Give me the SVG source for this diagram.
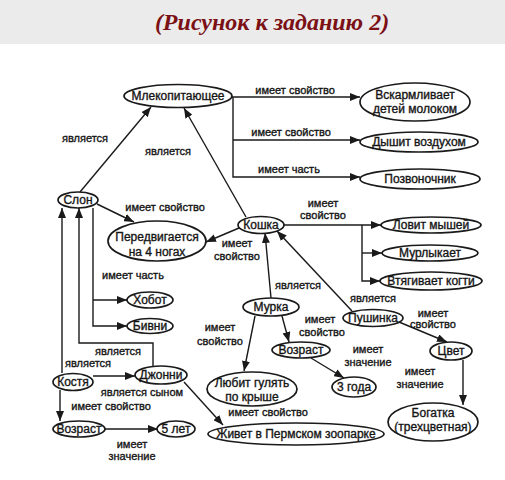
<svg xmlns="http://www.w3.org/2000/svg" width="505" height="480" viewBox="0 0 505 480">
<defs>
<marker id="arr" markerUnits="userSpaceOnUse" markerWidth="10" markerHeight="8" refX="10" refY="4" orient="auto">
<path d="M0,0 L10,4 L0,8 z" fill="#1a1a1a"/>
</marker>
<style>
.bg{fill:#ffffff}
.top{fill:#ebebeb}
.title{font-family:"Liberation Serif",serif;font-weight:bold;font-style:italic;font-size:24px;fill:#7b1015}
.node ellipse{fill:#ffffff;stroke:#1a1a1a;stroke-width:1.7}
.node text{font-family:"Liberation Sans",Arial,sans-serif;font-size:12px;fill:#151515;stroke:#151515;stroke-width:0.35;text-anchor:middle}
.edges path{fill:none;stroke:#1a1a1a;stroke-width:1.4;marker-end:url(#arr)}
.lbl{font-family:"Liberation Sans",Arial,sans-serif;font-size:11px;fill:#151515;stroke:#151515;stroke-width:0.35;text-anchor:middle}
</style>
</defs>
<rect class="bg" x="0" y="0" width="505" height="480"/>
<rect class="top" x="0" y="0" width="505" height="44"/>
<text class="title" x="272" y="30" text-anchor="middle">(Рисунок к заданию 2)</text>

<g id="edges" class="edges">
<path d="M80 192 L151 107"/>
<path d="M246 217 L184 108"/>
<path d="M232 97 H360"/>
<path d="M233 97 V177 H360"/>
<path d="M233 140 H360"/>
<path d="M97 204 L134 222"/>
<path d="M239 228 L206 242"/>
<path d="M93 208 V326 H127"/>
<path d="M93 300 H127"/>
<path d="M284 225 H381"/>
<path d="M362 225 V281 H380"/>
<path d="M362 253 H382"/>
<path d="M271 298 L265 233"/>
<path d="M352 311 L277 231"/>
<path d="M255 316 L244 371"/>
<path d="M282 316 L289 342"/>
<path d="M311 358 L344 378"/>
<path d="M399 322 L447 342"/>
<path d="M463 360 V405"/>
<path d="M62 373 V208"/>
<path d="M153 366 V343 H79 V208"/>
<path d="M93 376 H135"/>
<path d="M60 390 V421"/>
<path d="M105 429 H158"/>
<path d="M184 382 L223 425"/>
</g>

<g id="labels">
<text class="lbl" x="85" y="142">является</text>
<text class="lbl" x="168" y="155">является</text>
<text class="lbl" x="295" y="94">имеет свойство</text>
<text class="lbl" x="291" y="136">имеет свойство</text>
<text class="lbl" x="289" y="173">имеет часть</text>
<text class="lbl" x="165" y="211">имеет свойство</text>
<text class="lbl" x="237" y="247">имеет</text>
<text class="lbl" x="237" y="260">свойство</text>
<text class="lbl" x="323" y="207">имеет</text>
<text class="lbl" x="323" y="219">свойство</text>
<text class="lbl" x="133" y="279">имеет часть</text>
<text class="lbl" x="298" y="289">является</text>
<text class="lbl" x="373" y="302">является</text>
<text class="lbl" x="220" y="331">имеет</text>
<text class="lbl" x="220" y="345">свойство</text>
<text class="lbl" x="320" y="323">имеет</text>
<text class="lbl" x="322" y="336">свойство</text>
<text class="lbl" x="433" y="317">имеет</text>
<text class="lbl" x="433" y="328">свойство</text>
<text class="lbl" x="368" y="353">имеет</text>
<text class="lbl" x="368" y="366">значение</text>
<text class="lbl" x="420" y="375">имеет</text>
<text class="lbl" x="420" y="388">значение</text>
<text class="lbl" x="118" y="355">является</text>
<text class="lbl" x="88" y="367">является</text>
<text class="lbl" x="142" y="396">является сыном</text>
<text class="lbl" x="111" y="410">имеет свойство</text>
<text class="lbl" x="268" y="416">имеет свойство</text>
<text class="lbl" x="132" y="448">имеет</text>
<text class="lbl" x="132" y="460">значение</text>
</g>

<g id="n-mlek" class="node"><ellipse cx="178" cy="96" rx="54" ry="11.5"/><text x="178" y="100">Млекопитающее</text></g>
<g id="n-vskarm" class="node"><ellipse cx="415" cy="102" rx="55" ry="19"/><text x="415" y="99">Вскармливает</text><text x="415" y="113">детей молоком</text></g>
<g id="n-dyshit" class="node"><ellipse cx="419" cy="142" rx="59" ry="10"/><text x="419" y="146">Дышит воздухом</text></g>
<g id="n-pozv" class="node"><ellipse cx="420" cy="179" rx="60" ry="10"/><text x="420" y="183">Позвоночник</text></g>
<g id="n-slon" class="node"><ellipse cx="78" cy="200" rx="20" ry="8"/><text x="78" y="204">Слон</text></g>
<g id="n-pered" class="node"><ellipse cx="157" cy="241" rx="49" ry="20"/><text x="157" y="241">Передвигается</text><text x="157" y="256">на 4 ногах</text></g>
<g id="n-koshka" class="node"><ellipse cx="261" cy="225" rx="23" ry="8.5"/><text x="261" y="229">Кошка</text></g>
<g id="n-lovit" class="node"><ellipse cx="431" cy="225" rx="50" ry="8"/><text x="431" y="229">Ловит мышей</text></g>
<g id="n-murl" class="node"><ellipse cx="430" cy="253" rx="48" ry="8"/><text x="430" y="257">Мурлыкает</text></g>
<g id="n-vtyag" class="node"><ellipse cx="431" cy="281" rx="51" ry="9"/><text x="431" y="285">Втягивает когти</text></g>
<g id="n-hobot" class="node"><ellipse cx="150" cy="300" rx="23" ry="8"/><text x="150" y="304">Хобот</text></g>
<g id="n-bivni" class="node"><ellipse cx="150" cy="326" rx="23" ry="7.5"/><text x="150" y="330">Бивни</text></g>
<g id="n-murka" class="node"><ellipse cx="271" cy="307" rx="28" ry="9"/><text x="271" y="311">Мурка</text></g>
<g id="n-push" class="node"><ellipse cx="373" cy="318" rx="30" ry="8.5"/><text x="373" y="322">Пушинка</text></g>
<g id="n-vozr2" class="node"><ellipse cx="301" cy="350" rx="29" ry="8"/><text x="301" y="354">Возраст</text></g>
<g id="n-cvet" class="node"><ellipse cx="451" cy="351" rx="21" ry="9"/><text x="451" y="355">Цвет</text></g>
<g id="n-3goda" class="node"><ellipse cx="354" cy="387" rx="22" ry="10"/><text x="354" y="391">3 года</text></g>
<g id="n-lyubit" class="node"><ellipse cx="252" cy="389" rx="45" ry="17"/><text x="252" y="387">Любит гулять</text><text x="252" y="401">по крыше</text></g>
<g id="n-bogatka" class="node"><ellipse cx="433" cy="422" rx="45" ry="19"/><text x="433" y="417">Богатка</text><text x="433" y="431">(трехцветная)</text></g>
<g id="n-kostya" class="node"><ellipse cx="73" cy="382" rx="20" ry="8.5"/><text x="73" y="386">Костя</text></g>
<g id="n-dzhonni" class="node"><ellipse cx="161" cy="375" rx="26" ry="9"/><text x="161" y="379">Джонни</text></g>
<g id="n-vozr1" class="node"><ellipse cx="79" cy="429" rx="26" ry="8"/><text x="79" y="433">Возраст</text></g>
<g id="n-5let" class="node"><ellipse cx="176" cy="429" rx="19" ry="8"/><text x="176" y="433">5 лет</text></g>
<g id="n-zhivet" class="node"><ellipse cx="296" cy="434" rx="88" ry="11"/><text x="296" y="438">Живет в Пермском зоопарке</text></g>
</svg>
